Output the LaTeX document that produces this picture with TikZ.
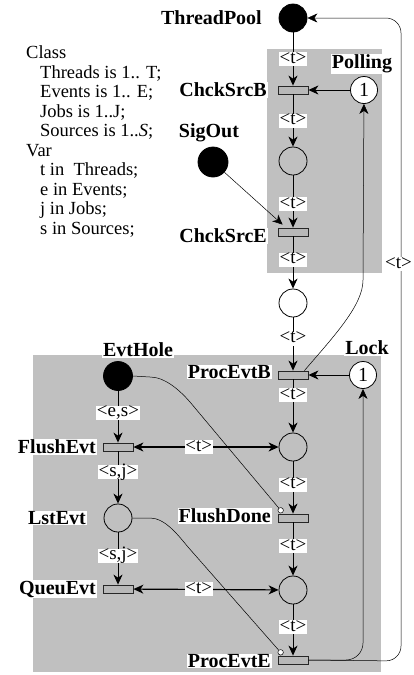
\documentclass[tikz,border=0pt]{standalone}
\usepackage{fontspec}
\setmainfont{Liberation Serif}
\usetikzlibrary{arrows.meta}
\definecolor{bggray}{RGB}{192,192,192}
\tikzset{
  pl/.style={circle, draw, line width=0.8pt, minimum size=28pt, inner sep=0pt},
  blackpl/.style={pl, fill=black},
  tokpl/.style={pl, fill=white, minimum size=27pt, font=\fontsize{20}{20}\selectfont},
  tr/.style={rectangle, draw=black!85, fill=black!28, line width=0.8pt, minimum width=30pt, minimum height=8pt, inner sep=0pt},
  lab/.style={font=\bfseries\fontsize{20}{20}\selectfont, fill=white, inner xsep=1pt, inner ysep=0.5pt},
  arclab/.style={font=\fontsize{19}{19}\selectfont, fill=white, inner xsep=0.8pt, inner ysep=1pt, text height=10pt, text depth=2pt},
  flow/.style={line width=1pt, -{Stealth[length=10pt,width=9pt,inset=3pt]}},
  biflow/.style={line width=1.2pt, {Stealth[length=10pt,width=9pt,inset=3pt]}-{Stealth[length=10pt,width=9pt,inset=3pt]}},
  fineflow/.style={line width=0.5pt, -{Stealth[length=10pt,width=9pt,inset=3pt]}},
  inh/.style={line width=0.5pt, -{Circle[length=6pt,fill=white]}},
  txt/.style={font=\fontsize{18.5}{19}\selectfont, inner sep=0pt, anchor=base west},
}
\begin{document}
\begin{tikzpicture}[x=1pt,y=-1pt]
\useasboundingbox (0,0) rectangle (413,675);
% gray regions
\fill[bggray] (267,49) rectangle (382,273);
\fill[bggray] (33,355) rectangle (381,672);

% declaration text
\node[txt] (t0) at (26,58.5) {Class};
\node[txt] (t1) at (40,78) {Threads is 1.. T;};
\node[txt] (t2) at (40,97.5) {Events is 1.. E;};
\node[txt] (t3) at (40,117) {Jobs is 1..J;};
\node[txt] (t4) at (40,136.5) {Sources is 1..\textit{S};};
\node[txt] (t5) at (26,156) {Var};
\node[txt] (t6) at (40,175.5) {t in\ \ Threads;};
\node[txt] (t7) at (40,195) {e in Events;};
\node[txt] (t8) at (40,214.5) {j in Jobs;};
\node[txt] (t9) at (40,234) {s in Sources;};

% places
\node[blackpl] (TP) at (293,18) {};
\node[tokpl] (Poll) at (364,90) {1};
\node[pl] (P2) at (293,161) {};
\node[blackpl, minimum size=30pt] (SO) at (213,162) {};
\node[pl] (P3) at (293,303) {};
\node[blackpl, minimum size=29pt] (EH) at (118,376) {};
\node[tokpl] (Lock) at (363,375) {1};
\node[pl] (P4) at (293,447) {};
\node[pl] (LE) at (118,518) {};
\node[pl] (P5) at (293,590) {};

% transitions
\node[tr] (CB) at (293,90) {};
\node[tr] (CE) at (293,232) {};
\node[tr] (PB) at (293,375) {};
\node[tr] (FE) at (118,447) {};
\node[tr] (FD) at (293,518) {};
\node[tr] (QE) at (118,589) {};
\node[tr] (PE) at (293,660) {};

% labels
\node[lab, anchor=east] (lTP) at (263,18) {ThreadPool};
\node[lab] (lPoll) at (362,64) {Polling};
\node[lab, anchor=east] (lCB) at (268,90) {ChckSrcB};
\node[lab] (lSO) at (209,133) {SigOut};
\node[lab, anchor=east] (lCE) at (268,236) {ChckSrcE};
\node[lab] (lEH) at (138,350) {EvtHole};
\node[lab, anchor=east] (lPB) at (272,372) {ProcEvtB};
\node[lab] (lLock) at (367,348) {Lock};
\node[lab, anchor=east] (lFE) at (97,447) {FlushEvt};
\node[lab, anchor=east] (lLE) at (87,518) {LstEvt};
\node[lab, anchor=east] (lFD) at (272,516) {FlushDone};
\node[lab, anchor=east] (lQE) at (97,589) {QueuEvt};
\node[lab, anchor=east] (lPE) at (272,661) {ProcEvtE};

% helper coordinates
\coordinate (soIn) at ([xshift=5pt,yshift=3pt]CE.north west);
\coordinate (fdIn) at ([xshift=5pt,yshift=1pt]FD.north west);
\coordinate (peIn) at ([xshift=5pt,yshift=1pt]PE.north west);
\coordinate (pbOut) at ([xshift=-4pt]PB.north east);

% main column arcs
\draw[flow] (TP) -- node[arclab] (a1) {<t>} (CB);
\draw[flow] (Poll) -- (CB);
\draw[flow] (CB) -- node[arclab] (a2) {<t>} (P2);
\draw[flow] (P2) -- node[arclab, pos=0.55] (a3) {<t>} (CE);
\draw[fineflow] (SO) -- (soIn);
\draw[flow] (CE) -- node[arclab, pos=0.45] (a4) {<t>} (P3);
\draw[flow] (P3) -- node[arclab, pos=0.4] (a5) {<t>} (PB);
\draw[fineflow] (pbOut) .. controls (335,335) and (363,305) .. (363,280) -- (Poll);
\draw[flow] (Lock) -- (PB);
\draw[flow] (PB) -- node[arclab, pos=0.3] (a6) {<t>} (P4);
\draw[biflow] (FE) -- node[arclab, pos=0.45] (a7) {<t>} (P4);
\draw[flow] (P4) -- node[arclab, pos=0.45] (a8) {<t>} (FD);
\draw[flow] (FD) -- node[arclab, pos=0.45] (a9) {<t>} (P5);
\draw[biflow] (QE) -- node[arclab, pos=0.45] (a10) {<t>} (P5);
\draw[flow] (P5) -- node[arclab, pos=0.45] (a11) {<t>} (PE);

% left column
\draw[flow] (EH) -- node[arclab, pos=0.42] (a12) {<e,s>} (FE);
\draw[flow] (FE) -- node[arclab, pos=0.4] (a13) {<s,j>} (LE);
\draw[flow] (LE) -- node[arclab, pos=0.45] (a14) {<s,j>} (QE);

% inhibitor arcs
\draw[inh] (EH.east) -- (150,377) .. controls (165,377) and (180,390.5) .. (190,402) -- (fdIn);
\draw[inh] (LE.east) -- (150,518) .. controls (165,518) and (178,535) .. (188,547) -- (peIn);

% return arcs
\draw[fineflow, rounded corners=17pt] (PE.east) -| (Lock);
\draw[fineflow, rounded corners=15pt] (PE.east) -- (401,661) -- (401,18) -- (TP);
\node[arclab, inner xsep=0pt] (a15) at (398.5,264) {<t>};
\end{tikzpicture}
\end{document}
